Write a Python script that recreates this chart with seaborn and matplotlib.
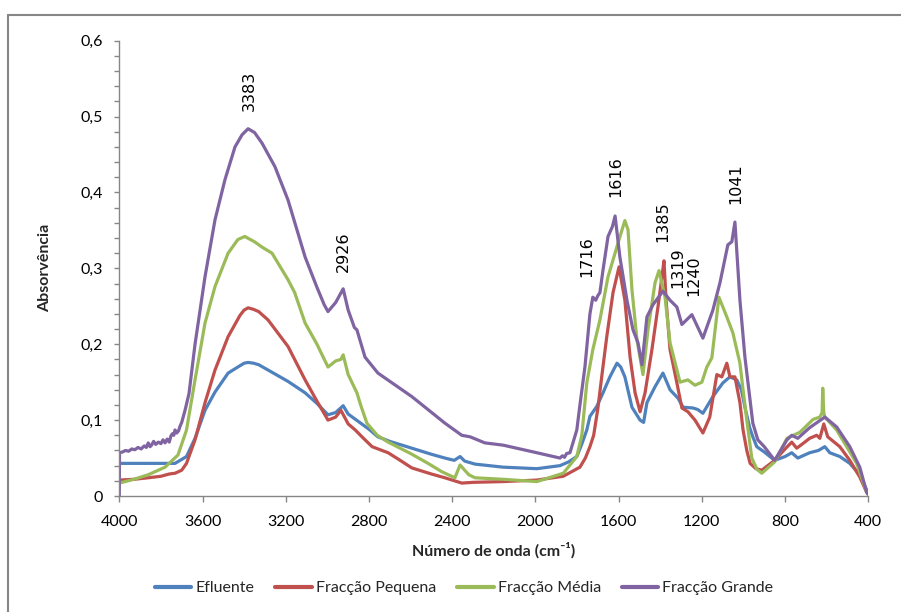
import numpy as np
import pandas as pd
import matplotlib
matplotlib.use("Agg")
import matplotlib.pyplot as plt
from matplotlib.lines import Line2D
from matplotlib.ticker import MultipleLocator, FixedLocator
import seaborn as sns

# ---------------- data ----------------
series_names = ["Efluente", "Fracção Pequena", "Fracção Média", "Fracção Grande"]
series_colors = ["#4F81BD", "#C0504D", "#9BBB59", "#8064A2"]

efluente_wn = [4000, 3900, 3800, 3732, 3677, 3636, 3588, 3540, 3477, 3430, 3400, 3381, 3355,
               3330, 3285, 3189, 3107, 3050, 2997, 2960, 2924, 2900, 2850, 2800, 2757, 2700,
               2594, 2500, 2435, 2390, 2362, 2340, 2290, 2155, 1993, 1882, 1840, 1801, 1775,
               1753, 1738, 1705, 1675, 1642, 1608, 1590, 1570, 1536, 1497, 1480, 1464, 1425,
               1387, 1353, 1315, 1290, 1243, 1220, 1195, 1147, 1099, 1065, 1032, 1010, 993,
               970, 955, 936, 900, 850, 800, 768, 739, 682, 640, 609, 585, 537, 489, 441,
               408, 400]
efluente_val = [0.043, 0.043, 0.043, 0.043, 0.052, 0.076, 0.113, 0.137, 0.162, 0.170, 0.175,
                0.176, 0.175, 0.173, 0.166, 0.151, 0.136, 0.122, 0.107, 0.110, 0.119, 0.108,
                0.098, 0.088, 0.078, 0.072, 0.063, 0.055, 0.050, 0.047, 0.052, 0.046, 0.042,
                0.038, 0.036, 0.040, 0.045, 0.052, 0.070, 0.087, 0.105, 0.118, 0.136, 0.157,
                0.175, 0.170, 0.157, 0.117, 0.100, 0.097, 0.123, 0.144, 0.162, 0.140, 0.129,
                0.117, 0.116, 0.114, 0.109, 0.131, 0.149, 0.157, 0.153, 0.140, 0.117, 0.090,
                0.078, 0.065, 0.058, 0.047, 0.052, 0.057, 0.050, 0.057, 0.060, 0.065, 0.057,
                0.052, 0.043, 0.028, 0.008, 0.003]

pequena_wn = [4000, 3930, 3861, 3800, 3760, 3732, 3700, 3677, 3636, 3588, 3540, 3477, 3420,
              3400, 3381, 3355, 3330, 3285, 3189, 3107, 3050, 2997, 2960, 2935, 2900, 2866,
              2830, 2785, 2708, 2650, 2594, 2500, 2435, 2354, 2300, 2155, 1993, 1866, 1786,
              1760, 1738, 1720, 1700, 1680, 1657, 1627, 1598, 1570, 1545, 1521, 1497, 1473,
              1440, 1411, 1392, 1382, 1372, 1353, 1320, 1296, 1267, 1233, 1195, 1162, 1128,
              1104, 1080, 1065, 1041, 1017, 1002, 984, 968, 940, 912, 850, 800, 768, 744,
              710, 682, 648, 633, 614, 595, 537, 489, 441, 408, 400]
pequena_val = [0.021, 0.022, 0.024, 0.026, 0.029, 0.030, 0.034, 0.043, 0.074, 0.123, 0.166,
               0.210, 0.238, 0.245, 0.248, 0.246, 0.243, 0.232, 0.197, 0.153, 0.125, 0.100,
               0.104, 0.113, 0.095, 0.087, 0.077, 0.065, 0.057, 0.047, 0.037, 0.029, 0.024,
               0.017, 0.018, 0.019, 0.021, 0.026, 0.038, 0.050, 0.065, 0.080, 0.115, 0.160,
               0.210, 0.268, 0.302, 0.258, 0.183, 0.136, 0.111, 0.136, 0.193, 0.249, 0.289,
               0.310, 0.258, 0.193, 0.149, 0.116, 0.111, 0.100, 0.083, 0.104, 0.160, 0.157,
               0.175, 0.157, 0.157, 0.123, 0.087, 0.060, 0.043, 0.036, 0.034, 0.047, 0.062,
               0.071, 0.063, 0.070, 0.076, 0.080, 0.076, 0.095, 0.078, 0.065, 0.047, 0.025,
               0.005, 0.002]

media_wn = [4000, 3930, 3861, 3780, 3718, 3677, 3636, 3588, 3540, 3477, 3430, 3397, 3350,
            3314, 3266, 3189, 3157, 3107, 3050, 2997, 2960, 2935, 2924, 2900, 2858, 2840,
            2810, 2760, 2708, 2600, 2516, 2450, 2387, 2362, 2340, 2320, 2290, 2155, 1993,
            1866, 1801, 1777, 1753, 1724, 1690, 1651, 1627, 1598, 1570, 1555, 1536, 1512,
            1483, 1459, 1425, 1406, 1377, 1353, 1305, 1267, 1233, 1200, 1176, 1152, 1118,
            1080, 1051, 1017, 1002, 984, 960, 935, 912, 850, 791, 768, 729, 665, 633, 622,
            619, 614, 609, 552, 504, 456, 408, 400]
media_val = [0.017, 0.022, 0.028, 0.038, 0.054, 0.087, 0.153, 0.228, 0.276, 0.320, 0.338,
             0.342, 0.335, 0.328, 0.320, 0.285, 0.268, 0.228, 0.200, 0.170, 0.178, 0.180,
             0.186, 0.160, 0.136, 0.120, 0.096, 0.080, 0.071, 0.056, 0.043, 0.032, 0.024,
             0.041, 0.034, 0.028, 0.024, 0.022, 0.019, 0.030, 0.052, 0.080, 0.149, 0.193,
             0.232, 0.289, 0.311, 0.338, 0.363, 0.351, 0.272, 0.206, 0.160, 0.219, 0.281,
             0.297, 0.262, 0.202, 0.150, 0.153, 0.146, 0.150, 0.170, 0.182, 0.262, 0.236,
             0.215, 0.175, 0.140, 0.100, 0.050, 0.035, 0.030, 0.045, 0.076, 0.079, 0.084,
             0.101, 0.104, 0.110, 0.142, 0.110, 0.104, 0.087, 0.065, 0.043, 0.005, 0.002]

grande_wn = [4000, 3999, 3985, 3970, 3955, 3940, 3925, 3910, 3895, 3880, 3870, 3861, 3852,
             3845, 3835, 3825, 3812, 3800, 3790, 3780, 3770, 3760, 3752, 3745, 3738, 3732,
             3724, 3715, 3708, 3700, 3684, 3665, 3636, 3588, 3540, 3492, 3444, 3410, 3381,
             3350, 3314, 3252, 3189, 3107, 3050, 3015, 2997, 2960, 2924, 2900, 2870, 2858,
             2819, 2757, 2594, 2435, 2354, 2314, 2243, 2155, 1993, 1882, 1870, 1860, 1850,
             1834, 1801, 1786, 1762, 1738, 1724, 1710, 1700, 1690, 1675, 1651, 1630, 1617,
             1594, 1560, 1531, 1507, 1488, 1464, 1435, 1387, 1353, 1320, 1296, 1248, 1195,
             1147, 1113, 1075, 1056, 1041, 1017, 993, 955, 931, 900, 850, 791, 768, 739,
             682, 609, 552, 489, 441, 408, 400]
grande_val = [0.000, 0.057, 0.058, 0.060, 0.059, 0.062, 0.061, 0.064, 0.062, 0.066, 0.064,
              0.070, 0.065, 0.067, 0.072, 0.068, 0.071, 0.069, 0.074, 0.070, 0.075, 0.071,
              0.079, 0.082, 0.080, 0.087, 0.083, 0.086, 0.092, 0.097, 0.113, 0.135, 0.200,
              0.289, 0.364, 0.417, 0.460, 0.476, 0.484, 0.479, 0.465, 0.434, 0.390, 0.315,
              0.275, 0.252, 0.243, 0.255, 0.273, 0.245, 0.222, 0.219, 0.183, 0.162, 0.131,
              0.096, 0.080, 0.078, 0.070, 0.067, 0.057, 0.050, 0.053, 0.051, 0.056, 0.057,
              0.087, 0.120, 0.170, 0.240, 0.262, 0.258, 0.264, 0.268, 0.298, 0.342, 0.355,
              0.369, 0.315, 0.258, 0.219, 0.202, 0.173, 0.236, 0.252, 0.270, 0.258, 0.249,
              0.226, 0.239, 0.208, 0.245, 0.281, 0.331, 0.335, 0.361, 0.258, 0.183, 0.096,
              0.074, 0.065, 0.047, 0.074, 0.080, 0.076, 0.090, 0.104, 0.091, 0.065, 0.038,
              0.005, 0.002]

peak_labels = ["3383", "2926", "1716", "1616", "1385", "1319", "1240", "1041"]
peak_label_x = [3377, 2925, 1752, 1613, 1387, 1315, 1238, 1036]
peak_label_y = [0.508, 0.295, 0.289, 0.394, 0.335, 0.274, 0.264, 0.385]

x_ticks = [4000, 3600, 3200, 2800, 2400, 2000, 1600, 1200, 800, 400]
x_ticklabels = ["4000", "3600", "3200", "2800", "2400", "2000", "1600", "1200", "800", "400"]
y_ticks = [0, 0.1, 0.2, 0.3, 0.4, 0.5, 0.6]
y_ticklabels = ["0", "0,1", "0,2", "0,3", "0,4", "0,5", "0,6"]

x_label = "Número de onda (cm⁻¹)"
y_label = "Absorvência"

# ---------------- build table ----------------
pairs = [(efluente_wn, efluente_val), (pequena_wn, pequena_val),
         (media_wn, media_val), (grande_wn, grande_val)]
frames = []
for name, (w, v) in zip(series_names, pairs):
    assert len(w) == len(v), (name, len(w), len(v))
    frames.append(pd.DataFrame({"wn": w, "abs": v, "serie": name}))
df = pd.concat(frames, ignore_index=True)

# ---------------- style ----------------
sns.set_theme(style="white")
plt.rcParams["font.family"] = ["Lato", "DejaVu Sans"]
plt.rcParams["lines.solid_joinstyle"] = "round"
plt.rcParams["lines.solid_capstyle"] = "round"

grey = "#868686"
fig = plt.figure(figsize=(9.01, 6.12), dpi=100)
ax = fig.add_axes([119.3 / 901, 1 - 496 / 612, (868.3 - 119.3) / 901, (496 - 40.7) / 612])

sns.lineplot(data=df, x="wn", y="abs", hue="serie", hue_order=series_names,
             palette=dict(zip(series_names, series_colors)), sort=False,
             estimator=None, linewidth=2.3, ax=ax, legend=True)

ax.set_xlim(4000, 400)
ax.set_ylim(0, 0.6)

for s in ["top", "right"]:
    ax.spines[s].set_visible(False)
for s in ["left", "bottom"]:
    ax.spines[s].set_color(grey)
    ax.spines[s].set_linewidth(1.0)

ax.xaxis.set_major_locator(FixedLocator(x_ticks))
ax.set_xticklabels(x_ticklabels)
ax.yaxis.set_major_locator(FixedLocator(y_ticks))
ax.set_yticklabels(y_ticklabels)
ax.yaxis.set_minor_locator(MultipleLocator(0.02))

ax.tick_params(axis="x", which="major", direction="out", length=4.5, width=1,
               color=grey, pad=9, labelsize=11.5, labelcolor="black", bottom=True)
ax.tick_params(axis="y", which="both", direction="out", length=3.5, width=1,
               color=grey, pad=8, labelsize=11.5, labelcolor="black", left=True)
ax.tick_params(axis="x", which="minor", bottom=False)

ax.set_xlabel(x_label, fontsize=11.5, fontweight="bold")
ax.xaxis.set_label_coords(0.5, -0.102)
ax.set_ylabel(y_label, fontsize=11.5, fontweight="bold")
ax.yaxis.set_label_coords(-0.09, 0.5)

for lab, lx, ly in zip(peak_labels, peak_label_x, peak_label_y):
    ax.text(lx, ly, lab, rotation=90, ha="center", va="bottom",
            fontsize=11.5, family="DejaVu Sans", color="black")

handles, labels = ax.get_legend_handles_labels()
ax.get_legend().remove()
leg = fig.legend(handles, labels, loc="center", bbox_to_anchor=(464 / 901, 1 - 588 / 612),
                 ncol=4, frameon=False, fontsize=11.5, handlelength=2.3,
                 handletextpad=0.25, columnspacing=1.3)
for h in leg.legend_handles:
    h.set_linewidth(3)

# outer chart border (top and left edges visible)
fig.add_artist(Line2D([8 / 901, 1.0], [1 - 15 / 612, 1 - 15 / 612],
                      transform=fig.transFigure, color=grey, linewidth=1.5))
fig.add_artist(Line2D([8 / 901, 8 / 901], [0.0, 1 - 15 / 612],
                      transform=fig.transFigure, color=grey, linewidth=1.5))

fig.savefig("out.png", dpi=100, facecolor="white")
